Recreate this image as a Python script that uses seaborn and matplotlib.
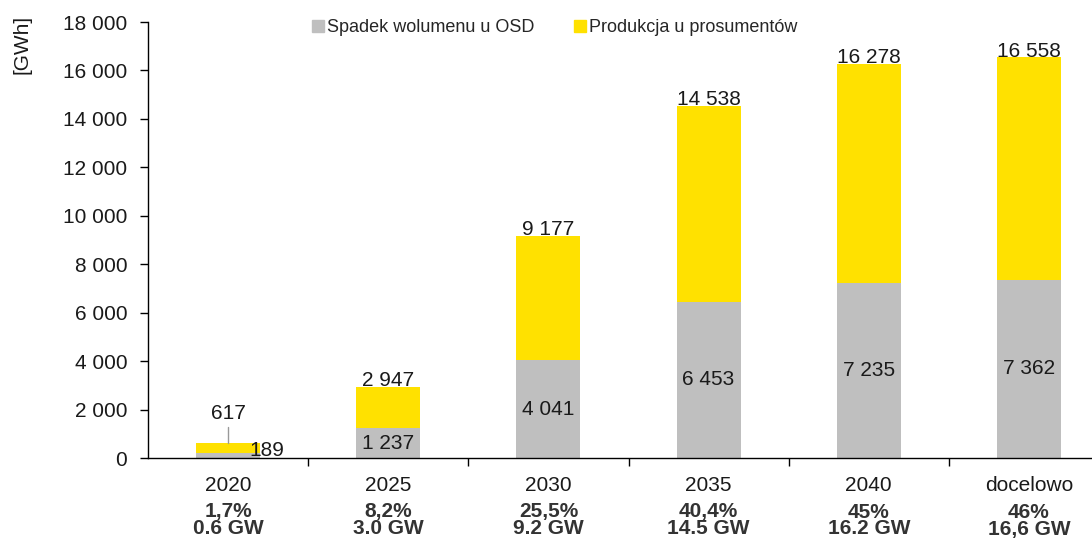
import numpy as np
import pandas as pd
import matplotlib
matplotlib.use('Agg')
import matplotlib.pyplot as plt
import matplotlib.transforms as mtransforms
from matplotlib.lines import Line2D
import seaborn as sns

# dane
kategorie = ['2020', '2025', '2030', '2035', '2040', 'docelowo']
spadek_osd = [189, 1237, 4041, 6453, 7235, 7362]
suma = [617, 2947, 9177, 14538, 16278, 16558]
udzial = ['1,7%', '8,2%', '25,5%', '40,4%', '45%', '46%']
moc = ['0.6 GW', '3.0 GW', '9.2 GW', '14.5 GW', '16.2 GW', '16,6 GW']

df = pd.DataFrame({'kat': kategorie, 'osd': spadek_osd, 'suma': suma})

sns.set_style('white')
plt.rcParams['font.family'] = ['Liberation Sans', 'DejaVu Sans']
plt.rcParams['font.size'] = 15

SZARY = '#BFBFBF'
ZOLTY = '#FFE100'
TEKST = '#1a1a1a'

fig = plt.figure(figsize=(10.92, 5.39), dpi=100)
ax = fig.add_axes([148/1092, 1 - 458/539, 961/1092, 436/539])

sns.barplot(data=df, x='kat', y='suma', color=ZOLTY, width=0.4,
            saturation=1, linewidth=0, ax=ax)
sns.barplot(data=df, x='kat', y='osd', color=SZARY, width=0.4,
            saturation=1, linewidth=0, ax=ax)

ax.set_xlim(-0.5, 5.5)
ax.set_ylim(0, 18000)
ax.set_yticks(np.arange(0, 18001, 2000))
ax.set_yticklabels([f'{v:,}'.replace(',', ' ') for v in range(0, 18001, 2000)],
                   color=TEKST)
ax.set_xlabel('')
ax.set_ylabel('')
ax.set_xticks(range(len(kategorie)))
ax.set_xticklabels(kategorie, color=TEKST)
ax.set_xticks(np.arange(0.5, 5.5, 1), minor=True)
ax.tick_params(axis='x', which='major', length=0, pad=13, bottom=True)
ax.tick_params(axis='x', which='minor', length=6, width=1, color='black',
               direction='out', bottom=True)
ax.tick_params(axis='y', length=6, width=1, color='black', direction='out',
               pad=9, left=True)
for s in ['top', 'right']:
    ax.spines[s].set_visible(False)
for s in ['left', 'bottom']:
    ax.spines[s].set_color('black')
    ax.spines[s].set_linewidth(1)

# etykiety wartości
for i, (o, t) in enumerate(zip(spadek_osd, suma)):
    if i == 0:
        ax.text(i, 1450, '617', ha='center', va='bottom', color=TEKST)
        ax.plot([i, i], [t, 1280], color='#999999', lw=1)
        ax.text(i + 0.13, o + 100, f'{o}', ha='left', va='center', color=TEKST)
    else:
        ax.text(i, t - 150, f'{t:,}'.replace(',', ' '), ha='center', va='bottom',
                color=TEKST)
        ax.text(i, o / 2, f'{o:,}'.replace(',', ' '), ha='center', va='center',
                color=TEKST)

# opisy pod osią
trans = mtransforms.blended_transform_factory(ax.transData, ax.transAxes)
for i, (u, m) in enumerate(zip(udzial, moc)):
    ax.text(i, -54/436, u, transform=trans, ha='center', va='center',
            fontweight='bold', color='#333333')
    ax.text(i, -71/436, m, transform=trans, ha='center', va='center',
            fontweight='bold', color='#333333')

fig.text(22/1092, 1 - 44/539, '[GWh]', rotation=90, ha='center', va='center',
         color=TEKST)

uchwyty = [Line2D([], [], marker='s', ls='', color=SZARY, markersize=8),
           Line2D([], [], marker='s', ls='', color=ZOLTY, markersize=8)]
fig.legend(uchwyty, ['Spadek wolumenu u OSD', 'Produkcja u prosumentów'],
           loc='center', bbox_to_anchor=(553/1092, 1 - 28/539), ncol=2,
           frameon=False, handletextpad=0.0, columnspacing=2.0,
           handlelength=1.0, fontsize=13)

fig.savefig('out.png', dpi=100)
